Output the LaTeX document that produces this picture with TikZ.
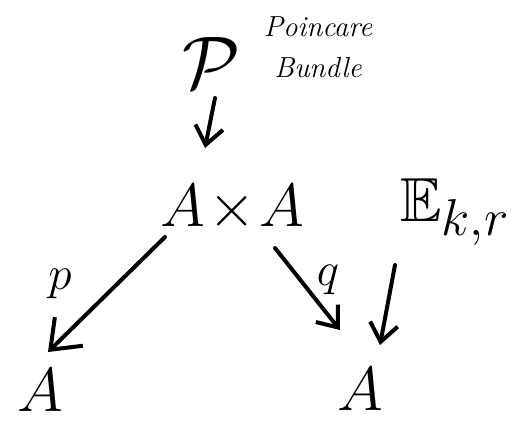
\documentclass[tikz,border=0pt]{standalone}
\usepackage{amsmath,amssymb}
\usepackage{fontspec}
\usepackage{graphicx}
\usetikzlibrary{arrows.meta}
\tikzset{
  big/.style={inner sep=0pt, font=\Huge},
  lbl/.style={inner sep=0pt, font=\Huge},
  note/.style={inner sep=0pt, align=center, font=\fontsize{29}{41}\selectfont\itshape},
  map/.style={line width=4pt, line cap=round,
    -{Straight Barb[length=18pt,width=28pt,line width=4pt]}},
  bigmap/.style={map, -{Straight Barb[length=26pt,width=40pt,line width=4pt]}},
}
\begin{document}
\begin{tikzpicture}[x=1pt,y=-1pt]
\useasboundingbox (0,0) rectangle (518,426);
% objects of the diagram
\node[big] (P) at (212,63) {\scalebox{3}{$\mathcal{P}$}};
\node[note] (name) at (318,47) {Poincare\\Bundle};
\node[big] (AA) at (232,208) {\scalebox{2.45}{$A\!\times\!A$}};
\node[big] (A1) at (40,390) {\scalebox{2.5}{$A$}};
\node[big] (A2) at (360,389) {\scalebox{2.5}{$A$}};
\node[big] (E) at (455,212) {\scalebox{2.5}{$\mathbb{E}_{k,r}$}};
% maps between them
\draw[map] ([shift={(3,35)}]P.center) -- ([shift={(-27,-60)}]AA.center);
\draw[bigmap] ([shift={(-67,29)}]AA.center) -- ([shift={(8,-38)}]A1.center);
\draw[map] ([shift={(43,40)}]AA.center) -- ([shift={(-20,-59)}]A2.center);
\draw[map] ([shift={(-60,53)}]E.center) -- ([shift={(20,-44)}]A2.center);
% labels of the projections
\node[lbl] (p) at (60,284) {\scalebox{1.9}{$p$}};
\node[lbl] (q) at (328,280) {\scalebox{1.9}{$q$}};
\end{tikzpicture}
\end{document}
